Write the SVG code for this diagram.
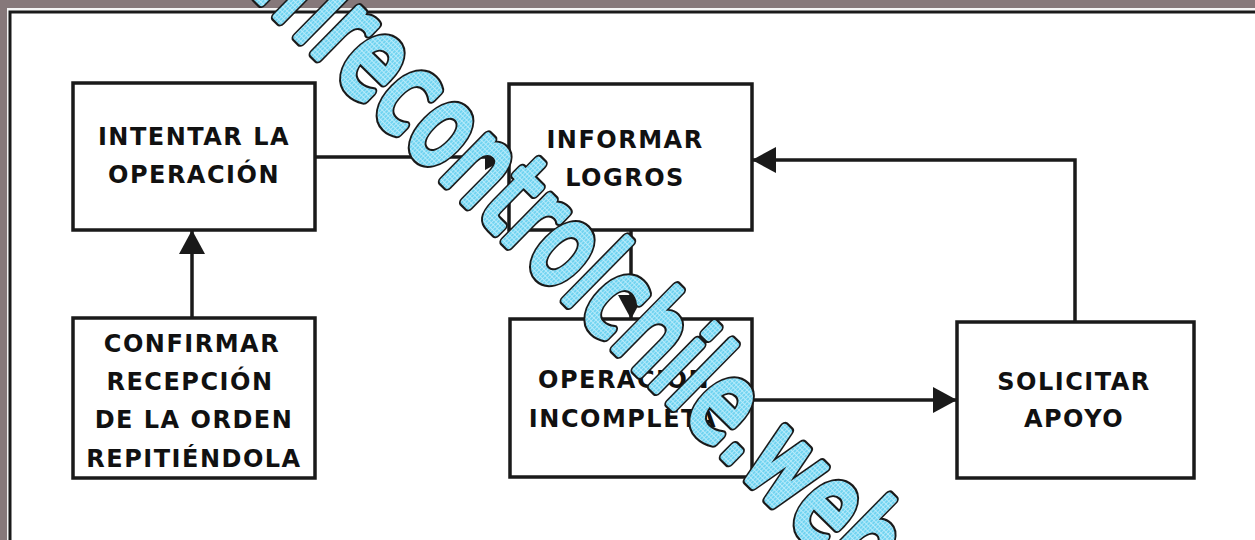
<svg xmlns="http://www.w3.org/2000/svg" width="1255" height="540" viewBox="0 0 1255 540">
<defs>
<style>
.box{fill:#fff;stroke:#1a1a1a;stroke-width:3.5}
.lbl{font-family:"DejaVu Sans",sans-serif;font-weight:bold;font-size:24px;letter-spacing:1.5px;fill:#111;text-anchor:middle}
.con{fill:none;stroke:#1a1a1a;stroke-width:3.5}
.wm{font-family:"DejaVu Sans",sans-serif;font-weight:normal;font-size:115px;letter-spacing:2.5px;stroke-linejoin:round;stroke-linecap:round}
.wm-out{fill:#1a1a1a;stroke:#1a1a1a;stroke-width:12}
.wm-in{fill:url(#hatch);stroke:url(#hatch);stroke-width:7.5}
</style>
<marker id="arr" markerUnits="userSpaceOnUse" markerWidth="26" markerHeight="28" refX="24" refY="13" orient="auto">
<path d="M0,0 L24,13 L0,26 Z" fill="#1a1a1a"/>
</marker>
<pattern id="hatch" patternUnits="userSpaceOnUse" width="4" height="4">
<rect width="4" height="4" fill="#6fd3f0"/>
<path d="M0,0.5 H4 M0.5,0 V4" stroke="#bfeefb" stroke-width="1"/>
</pattern>
</defs>
<rect x="0" y="0" width="1255" height="540" fill="#86787a"/>
<rect x="7" y="8" width="1260" height="540" fill="#f4f4f4"/>
<rect x="10" y="12" width="1260" height="540" fill="#fff" stroke="#1a1a1a" stroke-width="3"/>

<g id="connectors">
<path class="con" d="M315,157 H509" marker-end="url(#arr)"/>
<path class="con" d="M192,318 V230" marker-end="url(#arr)"/>
<path class="con" d="M631,230 V319" marker-end="url(#arr)"/>
<path class="con" d="M752,400 H957" marker-end="url(#arr)"/>
<path class="con" d="M1075,322 V160 H752" marker-end="url(#arr)"/>
</g>

<g id="intentar">
<rect class="box" x="73" y="83" width="242" height="147"/>
<text class="lbl" x="194" y="145">INTENTAR LA</text>
<text class="lbl" x="194" y="183">OPERACIÓN</text>
</g>
<g id="informar">
<rect class="box" x="509" y="84" width="243" height="146"/>
<text class="lbl" x="625" y="148">INFORMAR</text>
<text class="lbl" x="625" y="186">LOGROS</text>
</g>
<g id="confirmar">
<rect class="box" x="73" y="318" width="242" height="160"/>
<text class="lbl" x="192" y="352">CONFIRMAR</text>
<text class="lbl" x="190" y="390">RECEPCIÓN</text>
<text class="lbl" x="194" y="428">DE LA ORDEN</text>
<text class="lbl" x="194" y="467">REPITIÉNDOLA</text>
</g>
<g id="operacion">
<rect class="box" x="510" y="319" width="242" height="158"/>
<text class="lbl" x="624" y="388">OPERACIÓN</text>
<text class="lbl" x="623" y="427">INCOMPLETA</text>
</g>
<g id="solicitar">
<rect class="box" x="957" y="322" width="237" height="156"/>
<text class="lbl" x="1074" y="390">SOLICITAR</text>
<text class="lbl" x="1074" y="427">APOYO</text>
</g>

<g id="watermark" transform="translate(111,-146) rotate(44.5) scale(0.7,1)">
<text class="wm wm-out">www.firecontrolchile.webnode.cl</text>
<text class="wm wm-in">www.firecontrolchile.webnode.cl</text>
</g>
</svg>
